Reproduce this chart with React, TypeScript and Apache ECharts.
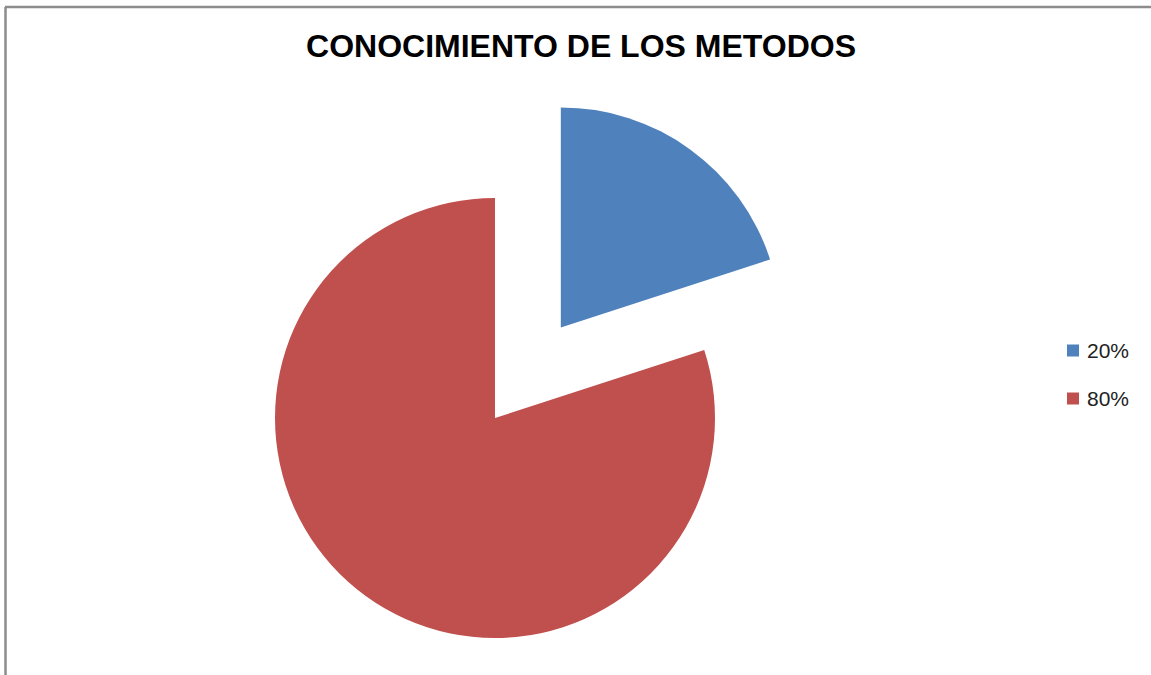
import React, { useEffect, useRef } from "react";
import * as echarts from "echarts";

const categories = ["20%", "80%"];
const values = [20, 80];
const colors = ["#4F81BD", "#C0504D"];
const titleText = "CONOCIMIENTO DE LOS METODOS";

export default function App() {
  const ref = useRef<HTMLDivElement>(null);
  useEffect(() => {
    const chart = echarts.init(ref.current!, null, { renderer: "svg" });
    chart.setOption({
      animation: false,
      backgroundColor: "#ffffff",
      title: {
        text: titleText,
        left: 581,
        textAlign: "center",
        top: 30,
        padding: 0,
        textStyle: { fontFamily: "Liberation Sans, Arial", fontWeight: "bold", fontSize: 32, color: "#000" },
      },
      legend: {
        orient: "vertical",
        left: 1067,
        top: 340,
        padding: 0,
        itemWidth: 12,
        itemHeight: 12,
        itemGap: 27,
        icon: "rect",
        data: categories,
        textStyle: { fontFamily: "Liberation Sans, Arial", fontSize: 21, color: "#222", padding: [0, 0, 0, 3] },
      },
      graphic: [
        { type: "line", shape: { x1: 5, y1: 7, x2: 1151, y2: 7 }, style: { stroke: "#8c8c8c", lineWidth: 2.5 } },
        { type: "line", shape: { x1: 5.5, y1: 7, x2: 5.5, y2: 675 }, style: { stroke: "#8c8c8c", lineWidth: 2.5 } },
      ],
      series: [
        {
          type: "pie",
          center: [495, 418],
          radius: 220,
          startAngle: 90,
          clockwise: true,
          selectedMode: "single",
          selectedOffset: 112,
          label: { show: false },
          labelLine: { show: false },
          emphasis: { disabled: true },
          data: categories.map((c, i) => ({
            name: c,
            value: values[i],
            selected: i === 0,
            itemStyle: { color: colors[i] },
          })),
        },
      ],
    });
    return () => chart.dispose();
  }, []);
  return <div ref={ref} style={{ position: "fixed", left: 0, top: 0, width: 1151, height: 675 }} />;
}
